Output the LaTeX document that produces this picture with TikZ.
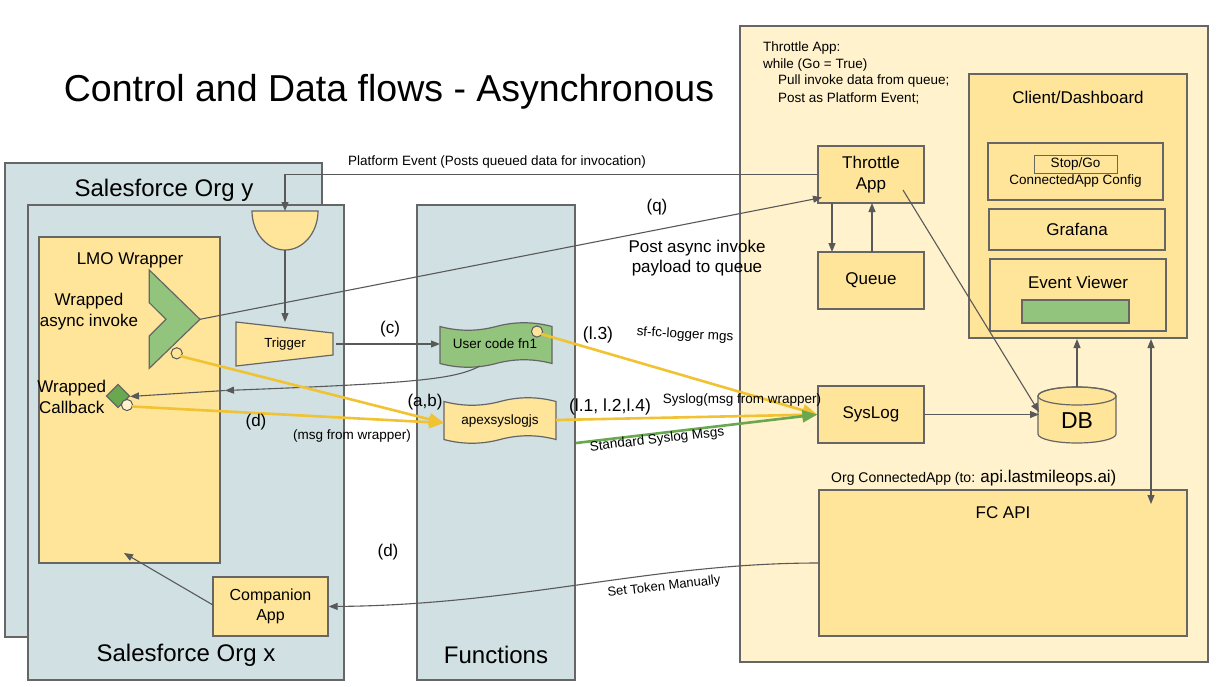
\documentclass[tikz,border=0pt]{standalone}
\usepackage{fontspec}
\setmainfont{Liberation Sans}
\usetikzlibrary{arrows.meta}
\definecolor{blueg}{HTML}{D0E0E3}
\definecolor{yel}{HTML}{FFE599}
\definecolor{lyel}{HTML}{FFF2CC}
\definecolor{grn}{HTML}{93C47D}
\definecolor{dgrn}{HTML}{6AA84F}
\definecolor{gold}{HTML}{F1C232}
\definecolor{bord}{HTML}{666666}
\definecolor{lin}{HTML}{595959}
\tikzset{
  f13/.style={font=\fontsize{13.5}{16}\selectfont},
  f17/.style={font=\fontsize{17}{20.5}\selectfont},
  f24/.style={font=\fontsize{24}{28}\selectfont},
  cont/.style={draw=bord, line width=1.2pt, inner sep=0pt},
  box/.style={draw=bord, fill=yel, line width=1.2pt, inner sep=0pt, align=center},
  conn/.style={draw=lin, line width=1.1pt, -{Triangle[length=9pt,width=7pt]}},
  yarrow/.style={draw=gold, line width=2.6pt, -{Triangle[length=15pt,width=12pt]}},
  garrow/.style={draw=dgrn, line width=2.6pt, -{Triangle[length=15pt,width=12pt]}},
  lbl/.style={inner sep=1pt},
}
\begin{document}
\begin{tikzpicture}[x=1pt,y=-1pt]
\useasboundingbox[fill=white] (0,0) rectangle (1224,686);

% title
\node[lbl, font=\fontsize{37.5}{44}\selectfont] (title) at (389,92) {Control and Data flows - Asynchronous};

% containers
\node[cont, fill=blueg, minimum width=317pt, minimum height=474pt] (orgy) at (163.5,400) {};
\node[lbl, f24] (orgyt) at (164,190) {Salesforce Org y};
\node[cont, fill=blueg, minimum width=316pt, minimum height=475pt] (orgx) at (186,442.5) {};
\node[lbl, f24] (orgxt) at (186,655) {Salesforce Org x};
\node[cont, fill=yel, minimum width=181pt, minimum height=326pt] (lmo) at (129.5,400) {};
\node[lbl, f17] (lmot) at (130,260) {LMO Wrapper};
\node[cont, fill=blueg, minimum width=158pt, minimum height=475pt] (func) at (496,442.5) {};
\node[lbl, f24] (funct) at (496,655) {Functions};
\node[cont, fill=lyel, minimum width=468pt, minimum height=636pt] (tapp) at (974,344) {};

% throttle code text
\node[lbl, f13, anchor=west] (c1) at (762,48) {Throttle App:};
\node[lbl, f13, anchor=west] (c2) at (762,65) {while (Go = True)};
\node[lbl, f13, anchor=west] (c3) at (777,81.5) {Pull invoke data from queue;};
\node[lbl, f13, anchor=west] (c4) at (777,98) {Post as Platform Event;};

% client dashboard
\node[box, minimum width=218pt, minimum height=264pt] (client) at (1078,206) {};
\node[lbl, f17] (clientt) at (1078,97) {Client/Dashboard};
\node[box, minimum width=175pt, minimum height=57pt] (cfg) at (1075.5,171.5) {};
\node[draw=bord, line width=1pt, fill=yel, inner sep=0pt, minimum width=83pt, minimum height=18pt, f13] (stopgo) at (1075.5,164) {Stop/Go};
\node[lbl, f13] (cfgt) at (1075.5,181) {ConnectedApp Config};
\node[box, minimum width=176pt, minimum height=41pt, f17] (graf) at (1077,229.5) {Grafana};
\node[box, minimum width=176pt, minimum height=72pt] (ev) at (1078,295) {};
\node[lbl, f17] (evt) at (1078,282) {Event Viewer};
\node[draw=bord, line width=1.2pt, fill=grn, inner sep=0pt, minimum width=107pt, minimum height=23pt] (evbar) at (1075.5,311.5) {};

% FC API
\node[box, minimum width=368pt, minimum height=146pt] (fcapi) at (1003,563) {};
\node[lbl, f17] (fcapit) at (1003,513) {FC API};
\node[lbl, anchor=west] (orgca) at (830,478) {\fontsize{14}{17}\selectfont Org ConnectedApp (to: \fontsize{17}{20}\selectfont api.lastmileops.ai)};

% platform event semicircle
\coordinate (pe) at (285,211);
\coordinate (peb) at (285,250);
\filldraw[fill=yel, draw=bord, line width=1.2pt] (252,211) -- (318,211) arc[start angle=0, end angle=-180, x radius=33pt, y radius=39pt] -- cycle;

% trigger
\filldraw[fill=yel, draw=bord, line width=1.2pt] (236,322) -- (333,333) -- (333,355) -- (236,366) -- cycle;
\node[lbl, font=\fontsize{13.2}{16}\selectfont] (trig) at (285,344) {Trigger};
\coordinate (trigE) at (336,344);

% tapes
\filldraw[fill=grn, draw=bord, line width=1.2pt] (440,326.5) .. controls (458.7,331.5) and (477.3,331.5) .. (496,326.5) .. controls (514.7,321.5) and (533.3,321.5) .. (552,326.5) -- (552,363.5) .. controls (533.3,358.5) and (514.7,358.5) .. (496,363.5) .. controls (477.3,368.5) and (458.7,368.5) .. (440,363.5) -- cycle;
\node[lbl, f13] (fn1) at (495,344) {User code fn1};
\coordinate (fn1W) at (440,344);
\filldraw[fill=yel, draw=bord, line width=1.2pt] (444,401.5) .. controls (462.7,406.5) and (481.3,406.5) .. (500,401.5) .. controls (518.7,396.5) and (537.3,396.5) .. (556,401.5) -- (556,439.5) .. controls (537.3,434.5) and (518.7,434.5) .. (500,439.5) .. controls (481.3,444.5) and (462.7,444.5) .. (444,439.5) -- cycle;
\node[lbl, f13] (apex) at (500,421) {apexsyslogjs};

% chevron
\filldraw[fill=grn, draw=bord, line width=1.2pt] (149.3,270) -- (200,319.3) -- (149.3,368.3) -- (149.3,336) -- (166,319.3) -- (149.3,302.7) -- cycle;
\coordinate (chev) at (200,319.3);
\node[lbl, f17, align=center] (wai) at (89,311.7) {Wrapped\\async invoke};
% callback diamond
\filldraw[fill=dgrn, draw=bord, line width=1.2pt] (118,384.5) -- (129.5,396) -- (118,407.5) -- (106.5,396) -- cycle;
\coordinate (cbE) at (130,396.5);
\node[lbl, f17, align=center] (wcb) at (71.7,396.7) {Wrapped\\Callback};

% throttle app boxes
\node[box, minimum width=106pt, minimum height=57pt, f17] (thr) at (871,174.5) {Throttle\\App};
\node[box, minimum width=106pt, minimum height=57pt, f17] (queue) at (871,280.5) {Queue};
\node[box, minimum width=106pt, minimum height=57pt, f17] (syslog) at (871,414.5) {SysLog};
\node[box, minimum width=115pt, minimum height=59pt, font=\fontsize{16}{20.5}\selectfont] (comp) at (270.5,606.5) {Companion\\App};

% DB cylinder
\filldraw[fill=yel, draw=bord, line width=1.2pt] (1038,396) -- (1038,434) arc[start angle=180, end angle=360, x radius=39pt, y radius=9pt] -- (1116,396) arc[start angle=0, end angle=180, x radius=39pt, y radius=9pt] -- cycle;
\draw[draw=bord, line width=1.2pt] (1077,396) ellipse [x radius=39pt, y radius=9pt];
\node[lbl, font=\fontsize{23}{27}\selectfont] (db) at (1077,421) {DB};
\coordinate (dbW) at (1039,412);
\coordinate (dbN) at (1077,387);

% connectors (gray)
\draw[conn] (thr.west) -| (pe);
\draw[conn] (peb) -- (285,322);
\draw[conn] (trigE) -- (fn1W);
\coordinate (thrIn) at (822,197.5);
\draw[conn] (chev) -- (thrIn);
\draw[conn] (832,203) -- (832,252);
\draw[conn] (872,252) -- (872,203);
\coordinate (thrApp) at (903,190);
\draw[conn] (thrApp) -- (dbW);
\draw[conn] (syslog.east) -- (dbW |- syslog.east);
\draw[conn] (dbN) -- (1077,339);
\draw[draw=lin, line width=1.1pt, {Triangle[length=9pt,width=7pt]}-{Triangle[length=9pt,width=7pt]}] (1151,339) -- (1151,504);
\coordinate (cbMid) at (225,390.5);
\draw[conn] (480,366) .. controls (455,379) and (420,383) .. (cbMid);
\draw[conn] (cbMid) -- (cbE);
\coordinate (lmoIn) at (124,553);
\draw[conn] (213,605) -- (lmoIn);
\draw[conn] (fcapi.west) .. controls (650,563) and (520,605) .. (comp.east);

% yellow / green arrows
\filldraw[fill=yel, draw=lin, line width=1pt] (176.7,353.3) circle[radius=5.6pt];
\filldraw[fill=lyel, draw=lin, line width=1pt] (127,405) circle[radius=5.6pt];
\filldraw[fill=yel, draw=lin, line width=1pt] (537,331.5) circle[radius=5.6pt];
\coordinate (apexW) at (444,423);
\draw[yarrow] (180,356) -- (apexW);
\draw[yarrow] (132,406.5) -- (apexW);
\draw[yarrow] (541,334) -- (syslog.west);
\draw[yarrow] (556,420) -- (syslog.west);
\draw[garrow] (576,443) -- (syslog.west);

% labels
\node[lbl, f13] (pel) at (497,162) {Platform Event (Posts queued data for invocation)};
\node[lbl, f17] (lc) at (390,329) {(c)};
\node[lbl, f17] (lq) at (657,207) {(q)};
\node[lbl, f17, align=center] (lpost) at (697,258) {Post async invoke\\payload to queue};
\node[lbl, font=\fontsize{17.5}{21}\selectfont] (l3) at (598,335) {(l.3)};
\node[lbl, f13, rotate=-3] (lsf) at (685,335) {sf-fc-logger mgs};
\node[lbl, font=\fontsize{17.5}{21}\selectfont] (l124) at (610,407) {(l.1, l.2,l.4)};
\node[lbl, f13] (lsys) at (742,400) {Syslog(msg from wrapper)};
\node[lbl, f13, rotate=6.5] (lstd) at (657,440) {Standard Syslog Msgs};
\node[lbl, f17] (lab) at (425,402) {(a,b)};
\node[lbl, f17] (ld1) at (256,422) {(d)};
\node[lbl, f13] (lmsg) at (352,436) {(msg from wrapper)};
\node[lbl, f17] (ld2) at (388,552) {(d)};
\node[lbl, font=\fontsize{13}{16}\selectfont, rotate=6.5] (ltok) at (664,587) {Set Token Manually};
\end{tikzpicture}
\end{document}
